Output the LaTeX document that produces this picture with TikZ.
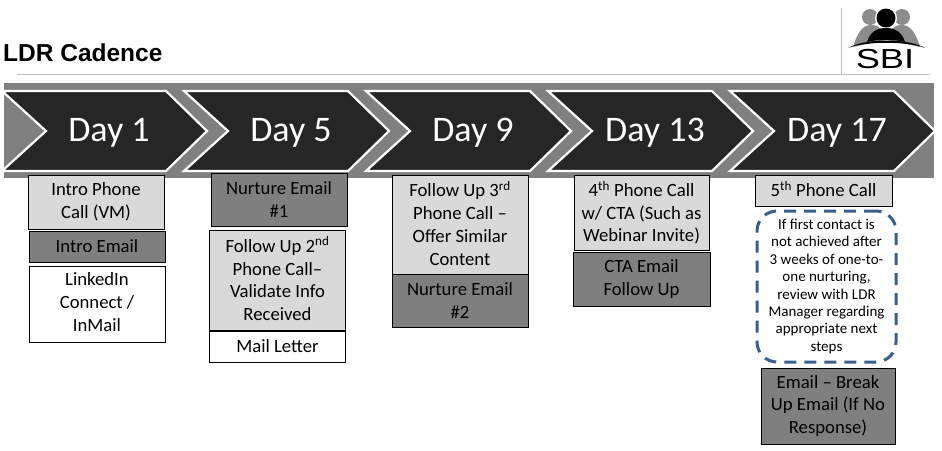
\documentclass[tikz,border=0pt]{standalone}
\usepackage{fontspec}
\setmainfont{Carlito}
\newfontfamily\titlefont{Liberation Sans}
\definecolor{bandgray}{HTML}{808080}
\definecolor{chevdark}{HTML}{262626}
\definecolor{calllight}{HTML}{D9D9D9}
\definecolor{emaildark}{HTML}{7F7F7F}
\definecolor{notedash}{HTML}{3A5F8A}
\definecolor{rulegray}{HTML}{BFBFBF}
\definecolor{logogray}{HTML}{8C8C8C}
\tikzset{
  taskbox/.style={draw=black,line width=1pt,inner sep=0pt,align=center,
    font=\fontsize{18.7}{22.8}\selectfont},
  callbox/.style={taskbox,fill=calllight},
  emailbox/.style={taskbox,fill=emaildark},
  plainbox/.style={taskbox,fill=white},
  sized/.style n args={2}{minimum width=#1,minimum height=#2}
}
\begin{document}
\begin{tikzpicture}[x=1pt,y=-1pt]
        \useasboundingbox (0,0) rectangle (942,450);

        \node[anchor=west,inner sep=0pt,font=\titlefont\bfseries\fontsize{24.5}{26}\selectfont] (title) at (3,53) {LDR Cadence};

        \draw[rulegray,line width=1pt] (17,74) -- (930,74);
        \draw[rulegray,line width=1pt] (841,8) -- (841,74);

        % logo
        \begin{scope}
          \fill[logogray] (870,17) circle (8);
          \fill[logogray] (902,17) circle (8);
          \fill[logogray] (853,47) .. controls (857,34) and (862,25) .. (871,25)
            .. controls (880,25) and (884,30) .. (886,40) -- cycle;
          \fill[logogray] (920,47) .. controls (916,34) and (911,25) .. (902,25)
            .. controls (893,25) and (889,30) .. (887,40) -- cycle;
          \fill[white] (886,18) circle (11);
          \fill[black] (886,18) circle (9.5);
          \fill[black] (867,42) .. controls (870,32) and (877,28) .. (886,28)
            .. controls (895,28) and (902,32) .. (905,42)
            .. controls (893,39) and (879,39) .. (867,42) -- cycle;
          \fill[black] (848,48) .. controls (865,38) and (908,38) .. (925,48)
            .. controls (908,41) and (865,41) .. (848,48) -- cycle;
          \node[inner sep=0pt,xscale=1.45,yscale=1.1,font=\titlefont\fontsize{25}{25}\selectfont] (sbi) at (885,59) {SBI};
        \end{scope}

        % band with the day chevrons
        \begin{scope}
          \clip (4,83) rectangle (934,178);
          \fill[bandgray] (4,83) rectangle (934,178);
          \foreach \n/\x/\lab in {1/0/Day 1,5/182/Day 5,9/364/Day 9,13/546/Day 13,17/728/Day 17} {
            \draw[fill=chevdark,draw=white,line width=2.2pt,miter limit=10,shift={(\x,0)}]
              (2,91) -- (166,91) -- (207,131) -- (166,171) -- (2,171) -- (46,131) -- cycle;
            \node[anchor=base,text=white,inner sep=0pt,font=\fontsize{36}{40}\selectfont] (day\n) at (109+\x,141) {\lab};
          }
        \end{scope}

        % day 1
        \node[callbox,sized={136}{54}]  (introcall)  at (96,202)    {Intro Phone\\Call (VM)};
        \node[emailbox,sized={136}{31}] (introemail) at (97,246.5)  {Intro Email};
        \node[plainbox,sized={136}{76},text depth=3.5pt] (linkedin)   at (97,304)    {LinkedIn\\Connect /\\InMail};

        % day 5
        \node[emailbox,sized={136}{53}] (nurture1) at (279,199.5) {Nurture Email\\\#1};
        \node[callbox,sized={136}{100},text depth=3.5pt] (followup2) at (277.5,280.5) {Follow Up 2\textsuperscript{nd}\\Phone Call--\\Validate Info\\Received};
        \node[plainbox,sized={136}{31}] (mailletter) at (277.5,346.5) {Mail Letter};

        % day 9
        \node[callbox,sized={136}{99},text depth=2pt]  (followup3) at (460,224.5) {Follow Up 3\textsuperscript{rd}\\Phone Call --\\Offer Similar\\Content};
        \node[emailbox,sized={136}{53}] (nurture2)  at (460,300.5) {Nurture Email\\\#2};

        % day 13
        \node[callbox,sized={135}{75},text depth=2pt]  (fourthcall) at (641.5,212.5) {4\textsuperscript{th} Phone Call\\w/ CTA (Such as\\Webinar Invite)};
        \node[emailbox,sized={137}{54}] (ctaemail)   at (641.5,279)   {CTA Email\\Follow Up};

        % day 17
        \node[callbox,sized={137}{31},text depth=3pt]  (fifthcall) at (823.5,190.5) {5\textsuperscript{th} Phone Call};
        \node[draw=notedash,line width=3pt,dash pattern=on 12pt off 8pt,rounded corners=20pt,
              minimum width=139,minimum height=151,inner sep=0pt,align=center,
              font=\fontsize{15}{17.4}\selectfont] (note) at (826.5,286.5)
          {If first contact is\\not achieved after\\3 weeks of one-to-\\one nurturing,\\review with LDR\\Manager regarding\\appropriate next\\steps};
        \node[emailbox,sized={134}{76}] (breakup) at (828,406) {Email -- Break\\Up Email (If No\\Response)};

\end{tikzpicture}
\end{document}
